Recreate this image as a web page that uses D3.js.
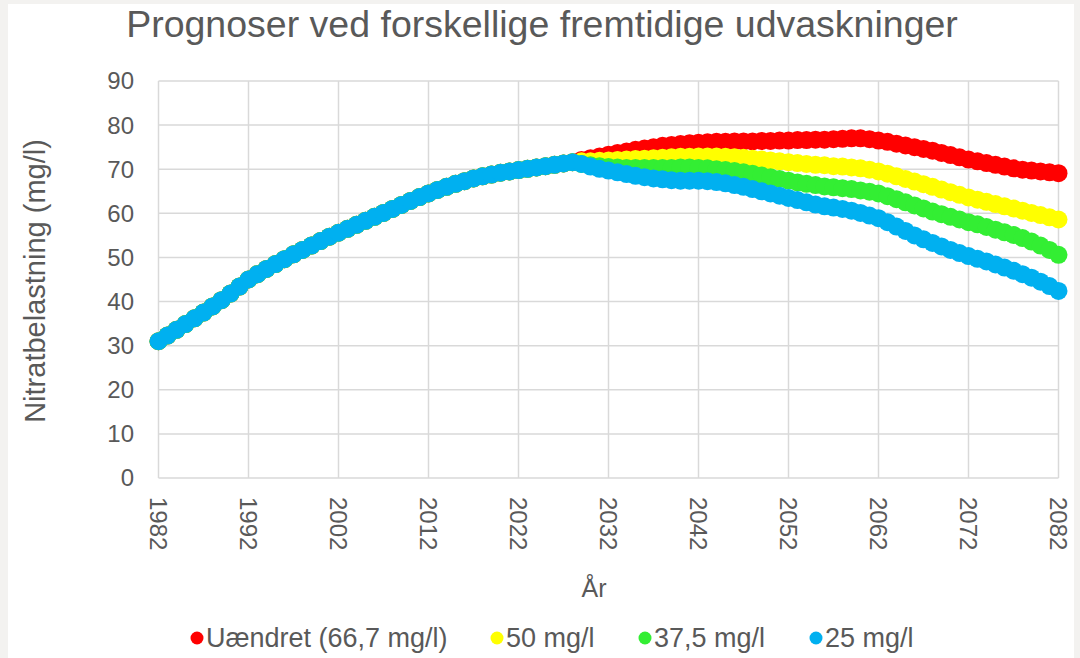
<!DOCTYPE html>
<html>
<head>
<meta charset="utf-8">
<script src="https://cdn.jsdelivr.net/npm/d3@7"></script>
<style>
  body { margin: 0; background: #f3f2f0; }
  svg { display: block; }
  text { font-family: "Liberation Sans", Arial, sans-serif; fill: #595959; }
</style>
</head>
<body>
<svg id="chart" width="1080" height="658"></svg>
<script>
// years 1982..2082, one point per year
const firstYear = 1982;
const lastYear = 2082;
const xTicks = [1982, 1992, 2002, 2012, 2022, 2032, 2042, 2052, 2062, 2072, 2082];
const yTicks = [0, 10, 20, 30, 40, 50, 60, 70, 80, 90];

// common history 1982..2028 (all four series)
const shared = [
    31.0, 32.3, 33.6, 34.9, 36.2, 37.5, 38.9, 40.3, 41.8, 43.4,
    45.0, 46.2, 47.4, 48.5, 49.6, 50.7, 51.7, 52.7, 53.7, 54.7,
    55.6, 56.5, 57.4, 58.3, 59.2, 60.1, 61.0, 61.9, 62.8, 63.7,
    64.5, 65.3, 66.0, 66.7, 67.3, 67.9, 68.4, 68.8, 69.2, 69.5,
    69.8, 70.1, 70.4, 70.7, 71.0, 71.3, 71.6
];

// prognoses 2029..2082
const uaendret = [
    72.1, 72.5, 72.9, 73.3, 73.7, 74.0, 74.4, 74.7, 75.0, 75.3,
    75.5, 75.7, 75.9, 76.0, 76.1, 76.2, 76.2, 76.3, 76.3, 76.3,
    76.4, 76.4, 76.5, 76.5, 76.6, 76.6, 76.7, 76.7, 76.8, 76.9,
    77.0, 77.0, 76.8, 76.5, 76.2, 75.8, 75.4, 75.0, 74.6, 74.2,
    73.7, 73.2, 72.7, 72.2, 71.8, 71.4, 71.0, 70.6, 70.2, 69.9,
    69.7, 69.5, 69.3, 69.1
];
const mg50 = [
    71.8, 71.8, 71.9, 72.0, 72.1, 72.2, 72.3, 72.4, 72.5, 72.6,
    72.7, 72.8, 72.8, 72.9, 72.9, 72.9, 72.8, 72.7, 72.6, 72.4,
    72.2, 72.0, 71.8, 71.6, 71.4, 71.2, 71.0, 70.9, 70.7, 70.6,
    70.4, 70.2, 69.9, 69.5, 69.0, 68.4, 67.8, 67.2, 66.6, 66.0,
    65.4, 64.8, 64.2, 63.6, 63.1, 62.6, 62.1, 61.6, 61.1, 60.6,
    60.1, 59.6, 59.1, 58.6
];
const mg375 = [
    71.2, 70.9, 70.7, 70.5, 70.4, 70.3, 70.3, 70.3, 70.3, 70.3,
    70.3, 70.4, 70.4, 70.3, 70.2, 70.0, 69.8, 69.6, 69.3, 69.0,
    68.6, 68.2, 67.8, 67.4, 67.0, 66.7, 66.4, 66.1, 65.9, 65.7,
    65.5, 65.2, 64.9, 64.5, 63.9, 63.2, 62.5, 61.8, 61.1, 60.4,
    59.8, 59.2, 58.6, 58.0, 57.5, 56.9, 56.3, 55.7, 55.1, 54.4,
    53.6, 52.7, 51.7, 50.6
];
const mg25 = [
    71.2, 70.6, 70.1, 69.7, 69.3, 68.9, 68.5, 68.2, 67.9, 67.7,
    67.5, 67.4, 67.4, 67.4, 67.3, 67.1, 66.8, 66.4, 66.0, 65.5,
    65.0, 64.5, 64.0, 63.5, 63.0, 62.5, 62.0, 61.6, 61.3, 61.0,
    60.6, 60.1, 59.5, 58.9, 58.0, 57.0, 56.0, 55.0, 54.1, 53.3,
    52.5, 51.7, 51.0, 50.3, 49.7, 49.1, 48.4, 47.7, 47.0, 46.2,
    45.4, 44.5, 43.5, 42.4
];

const seriesNames = ["Uændret (66,7 mg/l)", "50 mg/l", "37,5 mg/l", "25 mg/l"];
const seriesColors = ["#ff0000", "#ffff00", "#33ee33", "#00b0f0"];
const seriesValues = [uaendret, mg50, mg375, mg25].map(s => shared.concat(s));

const svg = d3.select("#chart");
const width = 1080, height = 658;

// white chart area with a thin grey frame left/top
svg.append("rect")
    .attr("x", 8).attr("y", 4)
    .attr("width", 1066).attr("height", height - 4)
    .attr("fill", "#fff");

const margin = {top: 81, right: 21.5, bottom: 180, left: 158.5};
const innerW = width - margin.left - margin.right;
const innerH = 478 - margin.top;

const x = d3.scaleLinear().domain([firstYear, lastYear]).range([margin.left, margin.left + innerW]);
const y = d3.scaleLinear().domain([0, 90]).range([margin.top + innerH, margin.top]);

// grid
const grid = svg.append("g").attr("stroke", "#d9d9d9").attr("stroke-width", 1.5);
grid.selectAll(".hg").data(yTicks).enter().append("line")
    .attr("x1", x(firstYear)).attr("x2", x(lastYear))
    .attr("y1", d => y(d)).attr("y2", d => y(d));
grid.selectAll(".vg").data(xTicks).enter().append("line")
    .attr("x1", d => x(d)).attr("x2", d => x(d))
    .attr("y1", y(0)).attr("y2", y(90));

// y axis labels
svg.append("g").selectAll("text").data(yTicks).enter().append("text")
    .attr("x", 134).attr("y", d => y(d))
    .attr("dy", "0.35em")
    .attr("text-anchor", "end")
    .style("font-size", "24px")
    .text(d => d);

// x axis labels, rotated
svg.append("g").selectAll("text").data(xTicks).enter().append("text")
    .attr("transform", d => "translate(" + x(d) + ",497) rotate(90)")
    .attr("dy", "0.35em")
    .attr("text-anchor", "start")
    .style("font-size", "24px")
    .text(d => d);

// axis titles
svg.append("text")
    .attr("transform", "translate(45,281) rotate(-90)")
    .attr("text-anchor", "middle")
    .style("font-size", "29px")
    .text("Nitratbelastning (mg/l)");

svg.append("text")
    .attr("x", 594).attr("y", 597)
    .attr("text-anchor", "middle")
    .style("font-size", "25px")
    .text("År");

svg.append("text")
    .attr("x", 542).attr("y", 37)
    .attr("text-anchor", "middle")
    .style("font-size", "37.5px")
    .text("Prognoser ved forskellige fremtidige udvaskninger");

// markers: red first, blue on top
const years = d3.range(firstYear, lastYear + 1);
seriesValues.forEach((vals, i) => {
    svg.append("g").selectAll("circle")
        .data(vals)
        .enter().append("circle")
        .attr("cx", (d, j) => x(years[j]))
        .attr("cy", d => y(d))
        .attr("r", 9)
        .attr("fill", seriesColors[i]);
});

// legend
const legendX = [197, 497, 645, 816];
const legend = svg.append("g");
seriesNames.forEach((name, i) => {
    legend.append("circle")
        .attr("cx", legendX[i]).attr("cy", 638)
        .attr("r", 6.5)
        .attr("fill", seriesColors[i]);
    legend.append("text")
        .attr("x", legendX[i] + 9).attr("y", 638)
        .attr("dy", "0.35em")
        .style("font-size", "27px")
        .text(name);
});
</script>
</body>
</html>
